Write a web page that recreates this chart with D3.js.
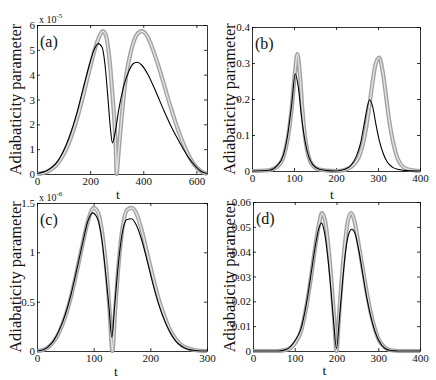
<!DOCTYPE html>
<html>
<head>
<meta charset="utf-8">
<script src="https://cdn.jsdelivr.net/npm/d3@7"></script>
<style>
  body { margin: 0; background: #fff; }
  svg { display: block; }
  svg text { font-family: "Liberation Serif", "Times New Roman", "DejaVu Serif", serif; fill: #111; }
  .ax path, .ax line { stroke: #000; stroke-width: 0.8; }
  .ax text { font-size: 11px; }
</style>
</head>
<body>
<div id="chart"></div>
<script>
// (a) values in units of 1e-5
const grayA_t = [0, 40, 80, 120, 150, 175, 200, 220, 235, 248, 260, 272, 284, 296, 300, 305, 318, 335, 355, 375, 395, 415, 440, 470, 500, 530, 560, 590, 615, 640];
const grayA_v = [0, 0.1, 0.45, 1.25, 2.2, 3.2, 4.3, 5.1, 5.55, 5.75, 5.55, 4.7, 3.2, 1.2, 0, 0.6, 2.2, 3.9, 5.0, 5.6, 5.75, 5.55, 4.9, 3.9, 2.8, 1.8, 1.0, 0.4, 0.12, 0];
const blackA_t = [0, 40, 80, 120, 150, 175, 200, 215, 230, 245, 256, 266, 275, 284, 292, 308, 328, 348, 363, 378, 393, 418, 448, 478, 508, 538, 568, 598, 622, 640];
const blackA_v = [0.02, 0.15, 0.55, 1.45, 2.45, 3.5, 4.5, 5.0, 5.25, 5.1, 4.4, 3.2, 2.0, 1.25, 1.55, 2.6, 3.6, 4.2, 4.45, 4.5, 4.4, 4.0, 3.3, 2.55, 1.85, 1.25, 0.7, 0.3, 0.08, 0.02];

// (b)
const grayB_t = [0, 40, 60, 75, 85, 95, 102, 108, 114, 120, 128, 136, 145, 160, 180, 200, 220, 240, 255, 267, 277, 285, 295, 303, 312, 320, 328, 336, 345, 355, 370, 400];
const grayB_v = [0, 0.002, 0.012, 0.04, 0.09, 0.18, 0.27, 0.325, 0.27, 0.17, 0.08, 0.035, 0.015, 0.004, 0.001, 0, 0.003, 0.015, 0.04, 0.09, 0.16, 0.23, 0.3, 0.315, 0.27, 0.2, 0.13, 0.08, 0.04, 0.017, 0.005, 0];
const blackB_t = [0, 40, 60, 75, 85, 95, 103, 110, 118, 126, 135, 145, 160, 180, 200, 220, 235, 248, 258, 267, 274, 280, 287, 295, 303, 312, 322, 335, 350, 370, 400];
const blackB_v = [0, 0.002, 0.015, 0.045, 0.1, 0.19, 0.27, 0.235, 0.15, 0.085, 0.04, 0.017, 0.005, 0.001, 0, 0.004, 0.015, 0.04, 0.075, 0.13, 0.175, 0.198, 0.18, 0.13, 0.085, 0.05, 0.025, 0.01, 0.004, 0.001, 0];

// (c) values in units of 1e-6
const grayC_t = [0, 10, 20, 30, 40, 50, 60, 70, 80, 90, 100, 108, 115, 122, 128, 133, 138, 144, 151, 159, 167, 175, 185, 195, 205, 215, 225, 235, 245, 255, 265, 280, 300];
const grayC_v = [0, 0.01, 0.04, 0.1, 0.2, 0.35, 0.55, 0.8, 1.07, 1.32, 1.45, 1.4, 1.2, 0.85, 0.42, 0, 0.42, 0.88, 1.25, 1.43, 1.45, 1.4, 1.22, 0.98, 0.74, 0.52, 0.35, 0.21, 0.12, 0.06, 0.03, 0.008, 0];
const blackC_t = [0, 10, 20, 30, 40, 50, 60, 70, 80, 90, 98, 106, 114, 121, 127, 132, 137, 143, 150, 158, 167, 175, 185, 195, 205, 215, 225, 235, 245, 255, 265, 280, 300];
const blackC_v = [0, 0.01, 0.045, 0.11, 0.22, 0.37, 0.57, 0.82, 1.08, 1.32, 1.4, 1.35, 1.15, 0.8, 0.45, 0.14, 0.45, 0.85, 1.18, 1.33, 1.34, 1.28, 1.12, 0.9, 0.67, 0.47, 0.31, 0.19, 0.1, 0.05, 0.02, 0.005, 0];

// (d)
const grayD_t = [0, 60, 80, 100, 115, 130, 140, 150, 158, 165, 172, 180, 187, 194, 200, 206, 213, 220, 228, 235, 242, 250, 260, 270, 280, 290, 300, 315, 330, 350, 400];
const grayD_v = [0, 0, 0.0005, 0.003, 0.008, 0.02, 0.031, 0.043, 0.051, 0.0555, 0.053, 0.043, 0.03, 0.014, 0, 0.014, 0.03, 0.043, 0.053, 0.0555, 0.053, 0.046, 0.036, 0.026, 0.017, 0.01, 0.005, 0.0015, 0.0003, 0, 0];
const blackD_t = [0, 60, 80, 100, 115, 130, 140, 150, 157, 164, 171, 179, 186, 193, 200, 207, 214, 221, 229, 237, 245, 253, 262, 272, 282, 292, 302, 315, 330, 350, 400];
const blackD_v = [0, 0, 0.0006, 0.004, 0.009, 0.021, 0.032, 0.043, 0.049, 0.0515, 0.048, 0.038, 0.026, 0.012, 0.001, 0.013, 0.027, 0.039, 0.047, 0.049, 0.047, 0.041, 0.032, 0.022, 0.014, 0.008, 0.004, 0.0012, 0.0002, 0, 0];

// tick labels
const xTicksA = [0, 200, 400, 600];
const xTicks400 = [0, 100, 200, 300, 400];
const xTicksC = [0, 100, 200, 300];
const yTicksA = [0, 1, 2, 3, 4, 5, 6];
const yTicksB = [0, 0.1, 0.2, 0.3, 0.4];
const yTicksC = [0, 0.5, 1, 1.5];
const yTicksD = [0, 0.01, 0.02, 0.03, 0.04, 0.05, 0.06];

const serif = "'Liberation Serif', 'Times New Roman', 'DejaVu Serif', serif";

const svg = d3.select("#chart").append("svg")
    .attr("width", 436)
    .attr("height", 380);

const panels = [
  { tag: "(a)", x0: 37, x1: 207, y0: 25, y1: 174, xMax: 640, yMax: 6, xt: xTicksA, yt: yTicksA, exp: "-5",
    gt: grayA_t, gv: grayA_v, bt: blackA_t, bv: blackA_v, titleX: 15, tX: -4, tY: 25 },
  { tag: "(b)", x0: 252, x1: 420, y0: 27, y1: 171, xMax: 400, yMax: 0.4, xt: xTicks400, yt: yTicksB, exp: null,
    gt: grayB_t, gv: grayB_v, bt: blackB_t, bv: blackB_v, titleX: 229, tX: -4, tY: 28 },
  { tag: "(c)", x0: 37, x1: 207, y0: 203, y1: 351, xMax: 300, yMax: 1.5, xt: xTicksC, yt: yTicksC, exp: "-6",
    gt: grayC_t, gv: grayC_v, bt: blackC_t, bv: blackC_v, titleX: 15, tX: -6, tY: 25 },
  { tag: "(d)", x0: 253, x1: 420, y0: 202, y1: 351, xMax: 400, yMax: 0.06, xt: xTicks400, yt: yTicksD, exp: null,
    gt: grayD_t, gv: grayD_v, bt: blackD_t, bv: blackD_v, titleX: 229, tX: -12, tY: 24 }
];

panels.forEach(drawPanel);

function drawPanel(p) {
  const x = d3.scaleLinear().domain([0, p.xMax]).range([p.x0, p.x1]);
  const y = d3.scaleLinear().domain([0, p.yMax]).range([p.y1, p.y0]);
  const g = svg.append("g");
  const fmt = d3.format("~g");

  // matlab-style box, ticks pointing inward on every side
  g.append("g").attr("class", "ax")
    .attr("transform", `translate(0,${p.y1})`)
    .call(d3.axisBottom(x).tickValues(p.xt).tickSizeInner(-3).tickSizeOuter(0).tickPadding(3).tickFormat(fmt));
  g.append("g").attr("class", "ax")
    .attr("transform", `translate(0,${p.y0})`)
    .call(d3.axisTop(x).tickValues(p.xt).tickSizeInner(-3).tickSizeOuter(0).tickFormat(""));
  g.append("g").attr("class", "ax")
    .attr("transform", `translate(${p.x0},0)`)
    .call(d3.axisLeft(y).tickValues(p.yt).tickSizeInner(-3).tickSizeOuter(0).tickPadding(2).tickFormat(fmt));
  g.append("g").attr("class", "ax")
    .attr("transform", `translate(${p.x1},0)`)
    .call(d3.axisRight(y).tickValues(p.yt).tickSizeInner(-3).tickSizeOuter(0).tickFormat(""));
  g.selectAll(".ax").attr("font-family", serif);

  const line = d3.line()
    .x(d => x(d[0]))
    .y(d => y(d[1]))
    .curve(d3.curveMonotoneX);

  const grayPts = p.gt.map((t, i) => [t, p.gv[i]]);
  const blackPts = p.bt.map((t, i) => [t, p.bv[i]]);

  // gray circle markers -> drawn as a ringed band
  g.append("path").datum(grayPts)
    .attr("d", line).attr("fill", "none")
    .attr("stroke", "#a3a3a3").attr("stroke-width", 4.2);
  g.append("path").datum(grayPts)
    .attr("d", line).attr("fill", "none")
    .attr("stroke", "#e2e2e2").attr("stroke-width", 1.4);

  // black solid line
  g.append("path").datum(blackPts)
    .attr("d", line).attr("fill", "none")
    .attr("stroke", "#000").attr("stroke-width", 1.1);

  // panel tag
  g.append("text")
    .attr("x", p.x0 + 3).attr("y", p.y0 + 22)
    .attr("font-family", serif)
    .attr("font-size", 16)
    .text(p.tag);

  // exponent
  if (p.exp) {
    const e = g.append("text")
      .attr("x", p.x0 + 2).attr("y", p.y0 - 2)
      .attr("font-family", serif)
      .attr("font-size", 10);
    e.append("tspan").text("x 10");
    e.append("tspan").attr("dy", -5).attr("font-size", 7).text(p.exp);
  }

  // axis titles
  g.append("text")
    .attr("transform", `translate(${p.titleX},${(p.y0 + p.y1) / 2}) rotate(-90)`)
    .attr("text-anchor", "middle")
    .attr("dominant-baseline", "central")
    .attr("font-family", serif)
    .attr("font-size", 16.5)
    .text("Adiabaticity parameter");

  g.append("text")
    .attr("x", (p.x0 + p.x1) / 2 + p.tX).attr("y", p.y1 + p.tY)
    .attr("text-anchor", "middle")
    .attr("font-family", serif)
    .attr("font-size", 13.5)
    .text("t");
}
</script>
</body>
</html>
